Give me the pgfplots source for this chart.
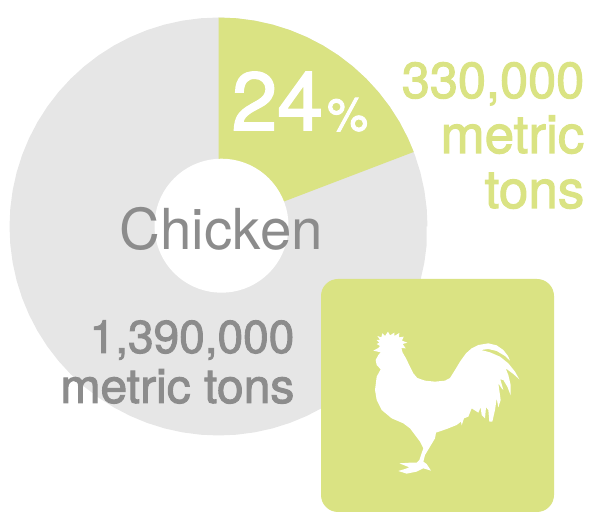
\documentclass[border=0pt]{standalone}
\usepackage{fontspec}
\setmainfont{TeX Gyre Heros}
\newfontfamily\medfont[FakeBold=2]{TeX Gyre Heros}
\usepackage{pgfplots}
\pgfplotsset{compat=1.18}
\definecolor{lime}{HTML}{DAE383}
\definecolor{pale}{HTML}{E6E6E6}
\definecolor{txt}{HTML}{8C8C8C}
\begin{document}
\begin{tikzpicture}
\path[use as bounding box] (0,0) rectangle (595pt,519pt);
\begin{axis}[at={(0,0)},anchor=south west,scale only axis,width=595pt,height=519pt,hide axis,clip=false,
  xmin=-218.5,xmax=376.5,ymin=-292.5,ymax=226.5]
% rest of the world
\addplot[fill=pale,draw=none,data cs=polar] coordinates {
(0,209)(5,209)(10,209)(15,209)(20,209)(25,209)(30,209)(35,209)(40,209)(45,209)(50,209)(55,209)(60,209)(65,209)(70,209)(75,209)(80,209)(85,209)(90,209)(95,209)(100,209)(105,209)(110,209)(115,209)(120,209)(125,209)(130,209)(135,209)(140,209)(145,209)(150,209)(155,209)(160,209)(165,209)(170,209)(175,209)(180,209)(185,209)(190,209)(195,209)(200,209)(205,209)(210,209)(215,209)(220,209)(225,209)(230,209)(235,209)(240,209)(245,209)(250,209)(255,209)(260,209)(265,209)(270,209)(275,209)(280,209)(285,209)(290,209)(295,209)(300,209)(305,209)(310,209)(315,209)(320,209)(325,209)(330,209)(335,209)(340,209)(345,209)(350,209)(355,209)} \closedcycle;
% chicken share
\addplot[fill=lime,draw=none,data cs=polar] coordinates {
(90,0)(90,209)(85,209)(80,209)(75,209)(70,209)(65,209)(60,209)(55,209)(50,209)(45,209)(40,209)(35,209)(30,209)(25,209)(20.9,209)(20.9,0)} \closedcycle;
% hole
\addplot[fill=white,draw=none,data cs=polar,xshift=3pt,yshift=0.8pt] coordinates {
(0,67)(5,67)(10,67)(15,67)(20,67)(25,67)(30,67)(35,67)(40,67)(45,67)(50,67)(55,67)(60,67)(65,67)(70,67)(75,67)(80,67)(85,67)(90,67)(95,67)(100,67)(105,67)(110,67)(115,67)(120,67)(125,67)(130,67)(135,67)(140,67)(145,67)(150,67)(155,67)(160,67)(165,67)(170,67)(175,67)(180,67)(185,67)(190,67)(195,67)(200,67)(205,67)(210,67)(215,67)(220,67)(225,67)(230,67)(235,67)(240,67)(245,67)(250,67)(255,67)(260,67)(265,67)(270,67)(275,67)(280,67)(285,67)(290,67)(295,67)(300,67)(305,67)(310,67)(315,67)(320,67)(325,67)(330,67)(335,67)(340,67)(345,67)(350,67)(355,67)} \closedcycle;
% icon tile
\addplot[fill=lime,draw=none,rounded corners=17pt] coordinates {(102.5,-52.5)(335.5,-52.5)(335.5,-285.5)(102.5,-285.5)} -- cycle;
% rooster
\addplot[fill=white,draw=none] table[x expr=141.5+\thisrow{x}/3,y expr=-93.5-\thisrow{y}/3] {
x y
40 92
55 84
60 78
50 72
58 68
50 60
60 60
52 48
64 52
67 40
75 48
84 35
90 46
103 38
103 48
118 39
117 52
131 50
126 62
142 68
128 72
137 85
124 84
128 98
138 115
150 140
160 160
172 174
195 182
225 185
255 182
270 174
285 150
300 125
318 100
335 85
355 75
385 70
410 76
430 90
444 108
450 122
435 108
410 93
385 87
363 90
390 97
420 110
445 130
465 155
478 178
460 162
437 145
445 165
452 195
452 226
442 200
430 180
421 178
430 210
425 205
415 190
422 240
415 262
410 235
405 270
397 305
388 305
385 270
378 262
375 295
365 285
362 262
355 278
335 265
325 290
312 295
305 316
303 305
290 315
260 327
228 338
225 355
210 380
195 405
190 425
200 432
213 452
190 445
170 455
140 461
115 453
135 447
148 442
118 430
150 428
170 428
178 420
190 385
180 365
150 325
130 310
95 295
65 270
50 240
45 210
50 170
62 148
50 135
47 120
55 105
62 97
40 92
} -- cycle;
% labels
\node[anchor=base west,inner sep=0,text=white] at (axis cs:13,96.5) {\medfont\fontsize{82}{82}\selectfont 24};
\node[anchor=base west,inner sep=0,text=white] at (axis cs:108.5,96) {\medfont\fontsize{46}{46}\selectfont \%};
\node[anchor=base east,inner sep=0,text=lime] at (axis cs:366,128.5) {\medfont\fontsize{50.5}{50}\selectfont 330,000};
\node[anchor=base east,inner sep=0,text=lime] at (axis cs:366,73.5) {\medfont\fontsize{53}{50}\selectfont metric};
\node[anchor=base east,inner sep=0,text=lime] at (axis cs:366,18.5) {\medfont\fontsize{53}{50}\selectfont tons};
\node[anchor=base west,inner sep=0,text=txt] at (axis cs:-99,-23.5) {\fontsize{56.5}{56}\selectfont Chicken};
\node[anchor=base east,inner sep=0,text=txt] at (axis cs:76,-126.5) {\medfont\fontsize{46}{46}\selectfont 1,390,000};
\node[anchor=base east,inner sep=0,text=txt] at (axis cs:76,-176.5) {\medfont\fontsize{48}{48}\selectfont metric tons};
\end{axis}
\end{tikzpicture}
\end{document}
